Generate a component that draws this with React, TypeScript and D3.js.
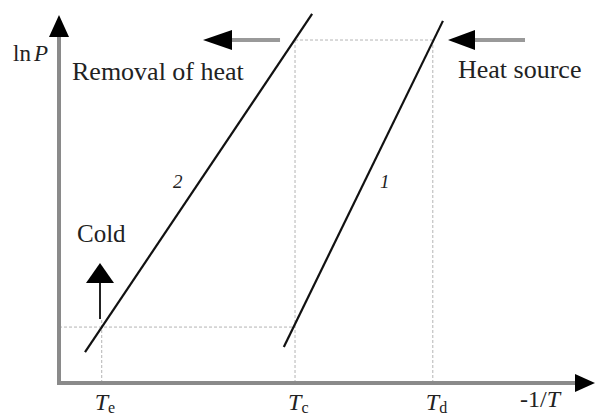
import React from "react";
import * as d3 from "d3";

// Schematic ln P vs -1/T diagram for a two-stage sorption cycle
const W = 595;
const H = 416;

// Axis extents in schematic units
const xDomain = [0, 10];
const yDomain = [0, 10];

// Characteristic temperatures on the -1/T axis
const tickSubs = ["e", "c", "d"];
const tickValues = [0.8, 4.42, 7.0];

// Pressure levels (ln P)
const lowLevel = 1.52;
const highLevel = 9.32;

// Equilibrium lines (endpoints in -1/T, ln P)
const lineNames = ["1", "2"];
const line1: [number, number][] = [
  [4.21, 0.98],
  [7.19, 9.84],
];
const line2: [number, number][] = [
  [0.487, 0.84],
  [4.74, 10.03],
];

const FONT = "'Liberation Serif', 'Times New Roman', serif";

export default function App() {
  const x = d3.scaleLinear().domain(xDomain).range([59, 593]);
  const y = d3.scaleLinear().domain(yDomain).range([383, 15]);
  const line = d3
    .line<[number, number]>()
    .x((d) => x(d[0]))
    .y((d) => y(d[1]));

  const [te, tc, td] = tickValues;
  const dash = { stroke: "#b4b4b4", strokeWidth: 1, strokeDasharray: "3,2", fill: "none" };

  return (
    <svg
      width={W}
      height={H}
      style={{ position: "absolute", left: 0, top: 0, background: "#fff" }}
      fontFamily={FONT}
    >
      {/* guide lines */}
      <line x1={x(0)} x2={x(tc)} y1={y(lowLevel)} y2={y(lowLevel)} {...dash} />
      <line x1={x(tc)} x2={x(td)} y1={y(highLevel)} y2={y(highLevel)} {...dash} />
      <line x1={x(te)} x2={x(te)} y1={y(0)} y2={y(lowLevel) - 7} {...dash} />
      <line x1={x(tc)} x2={x(tc)} y1={y(0)} y2={y(highLevel)} {...dash} />
      <line x1={x(td)} x2={x(td)} y1={y(0)} y2={y(highLevel)} {...dash} />

      {/* axes */}
      <line x1={x(0)} x2={x(0)} y1={y(0) + 2} y2={y(10) + 20} stroke="#8a8a8a" strokeWidth={4} />
      <line x1={x(0) - 2} x2={x(10) - 18} y1={y(0)} y2={y(0)} stroke="#8a8a8a" strokeWidth={4} />
      <path
        d={`M${x(0)},${y(10)} L${x(0) - 10},${y(10) + 22} L${x(0) + 10},${y(10) + 22} Z`}
        fill="#000"
      />
      <path
        d={`M${x(10) + 2},${y(0)} L${x(10) - 18},${y(0) - 9} L${x(10) - 18},${y(0) + 9} Z`}
        fill="#000"
      />

      {/* equilibrium lines */}
      <path d={line(line1) ?? ""} stroke="#111" strokeWidth={2.2} fill="none" />
      <path d={line(line2) ?? ""} stroke="#111" strokeWidth={2.2} fill="none" />
      <text x={380} y={188} fontSize={19} fontStyle="italic" fill="#222">
        {lineNames[0]}
      </text>
      <text x={173} y={188} fontSize={19} fontStyle="italic" fill="#222">
        {lineNames[1]}
      </text>

      {/* heat removal arrow */}
      <line x1={x(tc) - 15} x2={231} y1={y(highLevel)} y2={y(highLevel)} stroke="#999" strokeWidth={4} />
      <path d={`M203,${y(highLevel)} L232,${y(highLevel) - 10} L232,${y(highLevel) + 10} Z`} fill="#000" />
      <text x={72} y={80} fontSize={26} fill="#222">
        Removal of heat
      </text>

      {/* heat source arrow */}
      <line x1={474} x2={525} y1={y(highLevel)} y2={y(highLevel)} stroke="#999" strokeWidth={4} />
      <path d={`M448,${y(highLevel)} L475,${y(highLevel) - 10} L475,${y(highLevel) + 10} Z`} fill="#000" />
      <text x={458} y={78} fontSize={26} fill="#222">
        Heat source
      </text>

      {/* cold arrow */}
      <line x1={100} x2={100} y1={282} y2={319} stroke="#222" strokeWidth={2} />
      <path d="M100,263 L86,283 L114,283 Z" fill="#000" />
      <text x={77} y={242} fontSize={25} fill="#222">
        Cold
      </text>

      {/* axis titles */}
      <text x={13} y={61} fontSize={23} fill="#222">
        ln<tspan dx={3} fontStyle="italic">P</tspan>
      </text>
      <text x={520} y={407} fontSize={24} fill="#222">
        -1/<tspan fontStyle="italic">T</tspan>
      </text>

      {/* temperature ticks */}
      {tickValues.map((v, i) => (
        <text key={tickSubs[i]} x={x(v) - 7} y={410} fontSize={24} fill="#222">
          <tspan fontStyle="italic">T</tspan>
          <tspan fontSize={16} dy={3}>
            {tickSubs[i]}
          </tspan>
        </text>
      ))}
    </svg>
  );
}
